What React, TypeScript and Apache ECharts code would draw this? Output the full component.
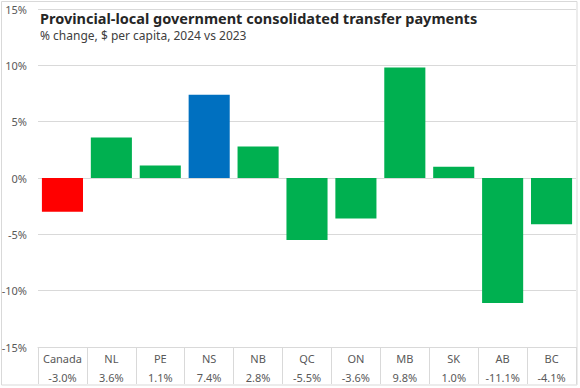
import React, { useEffect, useRef } from "react";
import * as echarts from "echarts";

const categories = ["Canada", "NL", "PE", "NS", "NB", "QC", "ON", "MB", "SK", "AB", "BC"];
const values = [-3.0, 3.6, 1.1, 7.4, 2.8, -5.5, -3.6, 9.8, 1.0, -11.1, -4.1];
const barColors = ["#FF0000", "#00B050", "#00B050", "#0070C0", "#00B050", "#00B050", "#00B050", "#00B050", "#00B050", "#00B050", "#00B050"];
const yTicks = { min: -15, max: 15, interval: 5 };
const titleText = "Provincial-local government consolidated transfer payments";
const subtitleText = "% change, $ per capita, 2024 vs 2023";

const FONT = "Noto Sans";

export default function App() {
  const ref = useRef<HTMLDivElement>(null);
  useEffect(() => {
    const chart = echarts.init(ref.current!, null, { renderer: "svg" });
    chart.setOption({
      animation: false,
      textStyle: { fontFamily: FONT },
      graphic: [
        {
          type: "rect",
          shape: { x: 1.5, y: 1.5, width: 575.5, height: 383.5 },
          style: { fill: "none", stroke: "#d9d9d9", lineWidth: 1 },
          silent: true,
        },
        {
          type: "text",
          left: 40,
          top: 9,
          style: { text: titleText, font: `bold 14.5px '${FONT}'`, lineHeight: 18, fill: "#262626" },
          z: 10,
        },
        {
          type: "text",
          left: 40,
          top: 28,
          style: { text: subtitleText, font: `12px '${FONT}'`, lineHeight: 14, fill: "#404040" },
          z: 10,
        },
      ],
      grid: { left: 38, right: 4, top: 9, bottom: 41, containLabel: false, outerBoundsMode: "none" },
      xAxis: {
        type: "category",
        data: categories,
        position: "bottom",
        axisLine: { show: true, onZero: false, lineStyle: { color: "#d9d9d9" } },
        axisTick: { show: true, length: 37, interval: 0, lineStyle: { color: "#d9d9d9" } },
        axisLabel: {
          interval: 0,
          margin: 2,
          color: "#595959",
          fontSize: 11,
          lineHeight: 19,
          fontFamily: FONT,
          formatter: (v: string, i: number) => `${v}\n${values[i].toFixed(1)}%`,
        },
      },
      yAxis: {
        type: "value",
        min: yTicks.min,
        max: yTicks.max,
        interval: yTicks.interval,
        axisLine: { show: false },
        axisTick: { show: false },
        splitLine: { lineStyle: { color: "#d9d9d9" } },
        axisLabel: {
          color: "#595959",
          fontSize: 11,
          margin: 11,
          fontFamily: FONT,
          formatter: (v: number) => `${v}%`,
        },
      },
      series: [
        {
          type: "bar",
          data: values.map((v, i) => ({ value: v, itemStyle: { color: barColors[i] } })),
          barWidth: "84%",
        },
      ],
    });
    return () => chart.dispose();
  }, []);
  return <div ref={ref} style={{ width: 580, height: 388, position: "absolute", left: 0, top: 0, background: "#fff" }} />;
}
